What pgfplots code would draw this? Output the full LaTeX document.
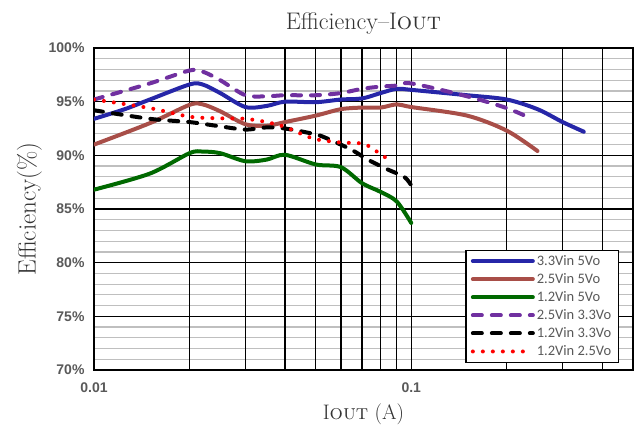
\documentclass[border=0pt]{standalone}
\usepackage{fontspec}
\usepackage{pgfplots}
\pgfplotsset{compat=1.18}
\newfontfamily\arialf{Liberation Sans}[BoldFont={Liberation Sans Bold}]
\newfontfamily\calibf{Carlito}
\definecolor{cblue}{RGB}{38,38,168}
\definecolor{cbrown}{RGB}{168,78,72}
\definecolor{cgreen}{RGB}{0,105,0}
\definecolor{cpurple}{RGB}{112,48,160}
\definecolor{tgray}{RGB}{89,89,89}
\begin{document}
\begin{tikzpicture}
\begin{axis}[
  scale only axis, width=539pt, height=322pt,
  xmode=log, xmin=0.01, xmax=0.5, ymin=70, ymax=100,
  xtick=\empty, minor xtick={},
  ytick={70,71,...,100},
  yticklabels={,,,,,,,,,,,,,,,,,,,,,,,,,,,,,,},
  ymajorgrids=true,
  major grid style={black!25, line width=1.2pt},
  extra x ticks={0.01,0.02,0.03,0.04,0.05,0.06,0.07,0.08,0.09,0.1,0.2,0.3,0.4},
  extra x tick labels={0.01,,,,,,,,,0.1,,,},
  extra y ticks={70,75,80,85,90,95,100},
  extra y tick labels={70\%,75\%,80\%,85\%,90\%,95\%,100\%},
  extra tick style={grid=major, major grid style={black, line width=1.3pt}},
  tick style={draw=none},
  axis line style={line width=1.6pt},
  ticklabel style={font=\arialf\bfseries\fontsize{14}{16}\selectfont, text=tgray},
  yticklabel style={xshift=-6pt},
  xticklabel style={yshift=-9pt},
  title={Efficiency--I\textsc{out}},
  title style={font=\fontsize{24}{28}\selectfont, text=black!80, yshift=4pt},
  xlabel={I\textsc{out} (A)},
  ylabel={Efficiency(\%)},
  xlabel style={font=\fontsize{21}{24}\selectfont, text=black!80, yshift=-4pt},
  ylabel style={font=\fontsize{25}{28}\selectfont, text=black!80, yshift=0pt},
  legend cell align=left,
  legend image code/.code={\draw[#1] (0pt,0pt) -- (60pt,0pt);},
  legend style={at={(0.974,0.022)}, anchor=south east, draw=black, line width=1.4pt,
    fill=white, font=\calibf\fontsize{14.5}{17}\selectfont, text=tgray,
    inner xsep=5pt, inner ysep=3pt, row sep=2.6pt},
  every axis plot/.append style={line width=4pt, smooth, line cap=round, line join=round},
]
\addplot[cblue] coordinates {(0.01,93.4) (0.0125,94.3) (0.015,95.2) (0.02,96.6) (0.022,96.6) (0.025,95.8) (0.03,94.5) (0.035,94.6) (0.04,95.0) (0.05,94.95) (0.06,95.2) (0.07,95.3) (0.08,95.8) (0.09,96.2) (0.1,96.1) (0.15,95.6) (0.2,95.2) (0.25,94.3) (0.3,93.1) (0.35,92.2)};
\addlegendentry{3.3Vin 5Vo}
\addplot[cbrown] coordinates {(0.01,91.0) (0.015,93.0) (0.02,94.7) (0.022,94.75) (0.025,94.1) (0.03,92.9) (0.035,92.75) (0.04,93.1) (0.05,93.7) (0.06,94.3) (0.07,94.45) (0.08,94.45) (0.09,94.75) (0.1,94.5) (0.15,93.7) (0.2,92.3) (0.25,90.4)};
\addlegendentry{2.5Vin 5Vo}
\addplot[cgreen] coordinates {(0.01,86.8) (0.015,88.3) (0.02,90.2) (0.022,90.35) (0.025,90.2) (0.03,89.45) (0.035,89.6) (0.04,90.05) (0.05,89.15) (0.06,88.9) (0.07,87.4) (0.08,86.6) (0.09,85.7) (0.1,83.7)};
\addlegendentry{1.2Vin 5Vo}
\addplot[cpurple, dash pattern=on 9pt off 10pt] coordinates {(0.01,95.2) (0.015,96.7) (0.02,97.9) (0.022,97.8) (0.025,97.0) (0.03,95.6) (0.035,95.5) (0.04,95.6) (0.05,95.6) (0.06,95.8) (0.07,96.2) (0.08,96.4) (0.09,96.5) (0.1,96.7) (0.15,95.5) (0.2,94.4) (0.24,93.4)};
\addlegendentry{2.5Vin 3.3Vo}
\addplot[black, dash pattern=on 9pt off 10pt] coordinates {(0.01,94.2) (0.015,93.4) (0.02,93.1) (0.025,92.7) (0.03,92.4) (0.035,92.6) (0.04,92.5) (0.05,91.95) (0.055,91.5) (0.065,90.5) (0.073,89.6) (0.084,88.7) (0.095,88.0) (0.1,87.2)};
\addlegendentry{1.2Vin 3.3Vo}
\addplot[red, dash pattern=on 0pt off 10pt] coordinates {(0.01,95.2) (0.015,94.4) (0.02,93.6) (0.025,93.45) (0.03,93.4) (0.035,93.1) (0.04,92.65) (0.045,92.0) (0.05,91.5) (0.06,91.2) (0.07,91.1) (0.075,90.7) (0.08,90.1) (0.085,89.6)};
\addlegendentry{1.2Vin 2.5Vo}
\end{axis}
\pgfresetboundingbox
\path[use as bounding box] ([xshift=-94pt,yshift=-58pt]current axis.south west) rectangle ++(636pt,428pt);
\end{tikzpicture}
\end{document}
